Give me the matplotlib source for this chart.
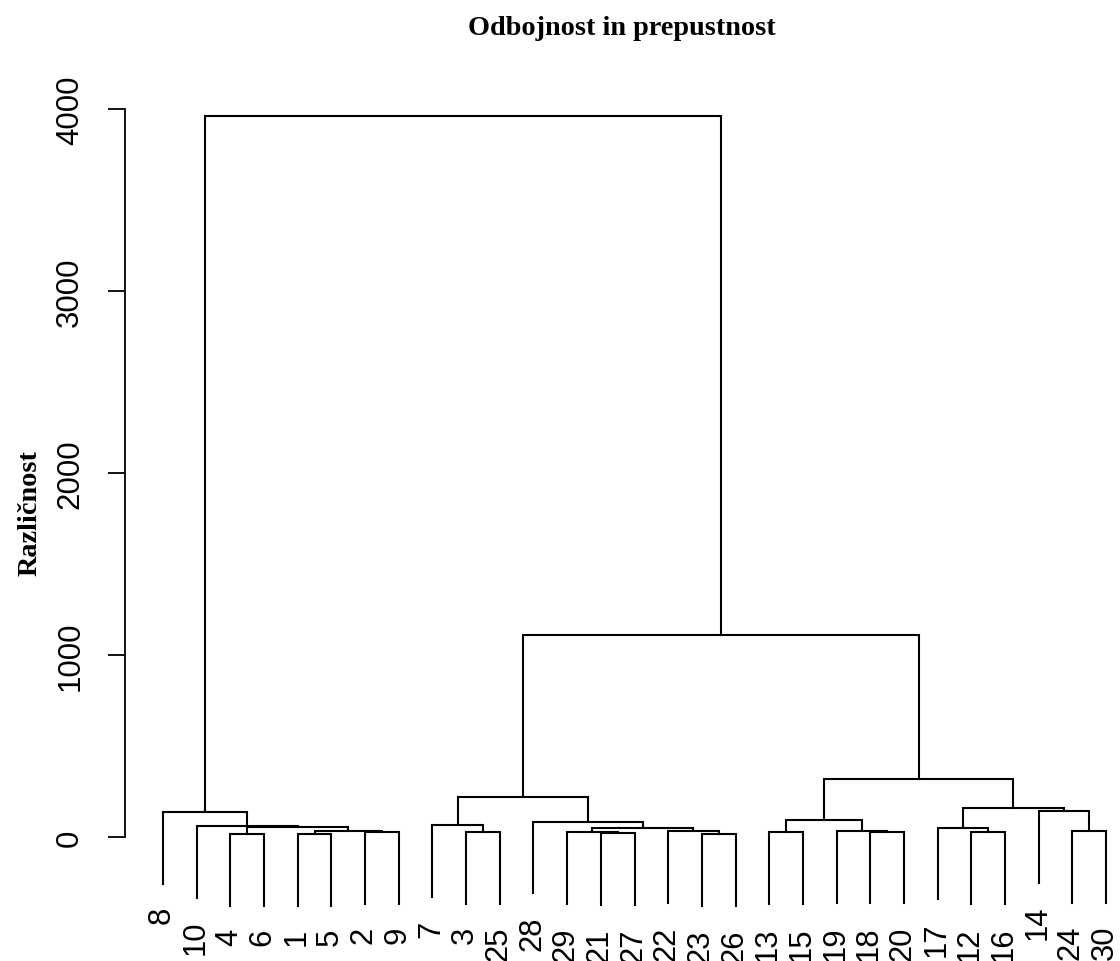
import matplotlib
matplotlib.use("Agg")
import matplotlib.pyplot as plt

# ---- data ----
title = "Odbojnost in prepustnost"
ylabel = "Različnost"
leaf_order = [8, 10, 4, 6, 1, 5, 2, 9, 7, 3, 25, 28, 29, 21, 27, 22, 23, 26,
              13, 15, 19, 18, 20, 17, 12, 16, 14, 24, 30]
# R hclust convention: negative = observation number, positive = earlier merge step
merge_a = [-4, -1, -23, -21, -13, -12, -29, -2, -3, -18, -22, -19, -24, 2,
           7, -17, 1, -10, -7, -28, 5, -8, -14, 16, 19, 21, 25, 22]
merge_b = [-6, -5, -26, -27, -15, -16, 4, -9, -25, -20, 3, 10, -30, 8,
           11, 6, 14, 17, 9, 15, 12, 18, 13, 23, 20, 24, 26, 27]
merge_h = [16, 16, 16, 20, 25, 25, 26, 29, 29, 30, 31, 32, 34, 35,
           49, 52, 53, 62, 64, 85, 93, 138, 144, 162, 218, 319, 1110, 3962]
yticks = [0, 1000, 2000, 3000, 4000]

W, H, DPI = 1120, 962, 100
fig = plt.figure(figsize=(W / DPI, H / DPI), dpi=DPI)

# axes placement (pixel mapping)
xlo, xhi = 0.6, 29.4
ylo, yhi = -450, 4100
s = 943 / 28.0
left_px = 163 - (1 - xlo) * s
right_px = 163 + (xhi - 1) * s
py = 728 / 4000.0
top_px = 838 - yhi * py
bot_px = 838 - ylo * py
ax = fig.add_axes([left_px / W, (H - bot_px) / H, (right_px - left_px) / W, (bot_px - top_px) / H])
ax.set_xlim(xlo, xhi)
ax.set_ylim(ylo, yhi)

# positions
xpos = {obs: i + 1 for i, obs in enumerate(leaf_order)}
hang = 0.1 * (max(merge_h) - min(merge_h))
cx = {}
for k, (a, b, h) in enumerate(zip(merge_a, merge_b, merge_h), start=1):
    pts = []
    for c in (a, b):
        if c < 0:
            pts.append((xpos[-c], h - hang, -c))
        else:
            pts.append((cx[c][0], cx[c][1], None))
    (xa, ya, la), (xb, yb, lb) = pts
    ax.plot([xa, xa, xb, xb], [ya, h, h, yb], color="black", lw=1.5,
            solid_joinstyle="miter", clip_on=False)
    cx[k] = ((xa + xb) / 2.0, h)
    for (xx, yy, lab) in pts:
        if lab is not None:
            ax.annotate(str(lab), (xx, yy), xytext=(-1, -16), textcoords="offset points",
                        rotation=90, ha="center", va="top", fontsize=22.3,
                        family="Liberation Sans", annotation_clip=False)

# axes styling
for sp in ("top", "right", "bottom"):
    ax.spines[sp].set_visible(False)
ax.spines["left"].set_position(("outward", (left_px - 125) * 72 / DPI))
ax.spines["left"].set_bounds(0, 4000)
ax.spines["left"].set_linewidth(1.3)
ax.set_xticks([])
ax.set_yticks(yticks)
ax.set_yticklabels([str(t) for t in yticks], rotation=90, va="center",
                   family="Liberation Sans", fontsize=22.5)
ax.tick_params(axis="y", length=12.2, width=1.3, pad=16.5, direction="out")

fig.text(622 / W, 1 - 35 / H, title, ha="center", va="baseline",
         family="Liberation Serif", fontweight="bold", fontsize=20.3)
fig.text(30 / W, 1 - 513 / H, ylabel, ha="center", va="center", rotation=90,
         family="Liberation Serif", fontweight="bold", fontsize=20.3)

fig.savefig("out.png", dpi=DPI)
